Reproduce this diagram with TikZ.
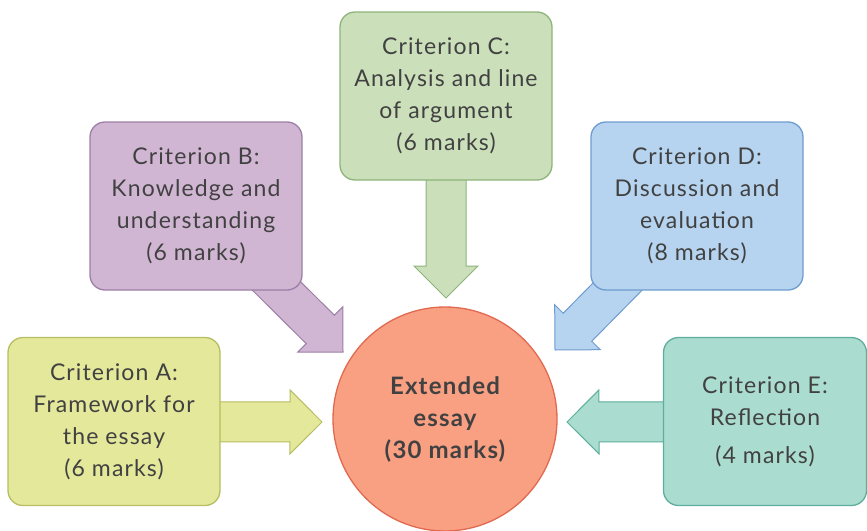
\documentclass[tikz,border=0pt]{standalone}
\usepackage{fontspec}
\setmainfont{Lato}[LetterSpace=5]
\usetikzlibrary{calc,backgrounds}
\definecolor{textgrey}{HTML}{414141}
\definecolor{fillA}{HTML}{E4E89B}
\definecolor{lineA}{HTML}{B7BD62}
\definecolor{fillB}{HTML}{D1B6D4}
\definecolor{lineB}{HTML}{9C7FA6}
\definecolor{fillC}{HTML}{CBDFBA}
\definecolor{lineC}{HTML}{8DB57A}
\definecolor{fillD}{HTML}{B6D4EF}
\definecolor{lineD}{HTML}{6E9CD0}
\definecolor{fillE}{HTML}{AADCCF}
\definecolor{lineE}{HTML}{5DAE9C}
\definecolor{fillEE}{HTML}{F9A083}
\definecolor{lineEE}{HTML}{E0694F}

% fat arrow: from, tip, fill, outline
\newcommand{\blockarrow}[4]{%
  \coordinate (base) at ($(#2)!32pt!(#1)$);
  \filldraw[fill=#3, draw=#4, line width=1pt]
    ($(#1)!20pt!90:(#2)$) -- ($(base)!20pt!90:(#2)$) -- ($(base)!32pt!90:(#2)$) -- (#2)
    -- ($(base)!32pt!-90:(#2)$) -- ($(base)!20pt!-90:(#2)$) -- ($(#1)!20pt!-90:(#2)$) -- cycle;}

\begin{document}
\begin{tikzpicture}[x=1pt, y=-1pt,
	every node/.style={font=\fontsize{23}{32}\selectfont, text=textgrey, align=center},
	crit/.style={draw, rounded corners=15pt, line width=1.3pt, minimum width=212pt, minimum height=168pt, inner sep=0pt},]

    \useasboundingbox (0,0) rectangle (867,530);

    \node[crit, fill=fillC, draw=lineC] (C) at (446,96) {Criterion C:\\Analysis and line\\of argument\\(6 marks)};
    \node[crit, fill=fillB, draw=lineB] (B) at (196,206) {Criterion B:\\Knowledge and\\understanding\\(6 marks)};
    \node[crit, fill=fillD, draw=lineD] (D) at (697,206) {Criterion D:\\Discussion and\\evaluation\\(8 marks)};
    \node[crit, fill=fillA, draw=lineA] (A) at (114,421.5) {Criterion A:\\Framework for\\the essay\\(6 marks)};
    \node[crit, fill=fillE, draw=lineE, minimum width=203pt] (E) at (765,421.5) {Criterion E:\\Reflection\\[6pt](4 marks)};

    \node[circle, fill=fillEE, draw=lineEE, line width=1.3pt, minimum size=224pt,
	font=\bfseries\fontsize{24}{32}\selectfont] (EE) at (445,419) {Extended\\essay\\(30 marks)};

    \coordinate (tA) at (322,422);
    \coordinate (tB) at (343,352);
    \coordinate (tC) at (446,298);
    \coordinate (tD) at (555,350);
    \coordinate (tE) at (567,422);

    \begin{scope}[on background layer]
    \foreach \n in {A,B,C,D,E} {\blockarrow{\n.center}{t\n}{fill\n}{line\n}}
    \end{scope}
\end{tikzpicture}
\end{document}
